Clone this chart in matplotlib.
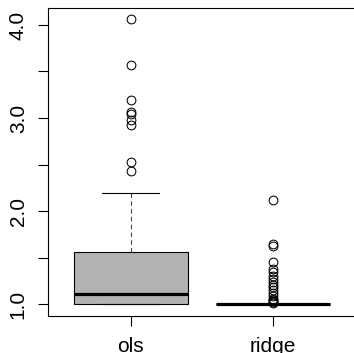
import matplotlib
matplotlib.use("Agg")
import matplotlib.pyplot as plt

plt.rcParams['font.family'] = ['Liberation Sans', 'DejaVu Sans']

categories = ["ols", "ridge"]
medians = [1.11, 1.0]
q1 = [1.0, 1.0]
q3 = [1.56, 1.0]
whisker_low = [1.0, 1.0]
whisker_high = [2.19, 1.0]
outliers_ols = [4.06, 3.57, 3.19, 3.07, 3.04, 2.98, 2.92, 2.53, 2.43]
outliers_ridge = [2.12, 1.645, 1.62, 1.45, 1.38, 1.34, 1.30, 1.27, 1.24, 1.21,
                  1.18, 1.15, 1.12, 1.09, 1.06, 1.04, 1.03, 1.02, 1.01]
y_ticks = [1.0, 1.5, 2.0, 2.5, 3.0, 3.5, 4.0]
y_labels = ["1.0", "", "2.0", "", "3.0", "", "4.0"]

fliers = [outliers_ols, outliers_ridge]
stats = []
for i, c in enumerate(categories):
    stats.append(dict(label=c, med=medians[i], q1=q1[i], q3=q3[i],
                      whislo=whisker_low[i], whishi=whisker_high[i],
                      fliers=fliers[i]))

W, H = 354, 353
fig = plt.figure(figsize=(W / 100, H / 100), dpi=100)
ax = fig.add_axes([48 / W, (H - 315.5) / H, (355.5 - 48) / W, (315.5 - 8) / H])

ax.bxp(stats, positions=[1, 2], widths=0.8, patch_artist=True,
       boxprops=dict(facecolor="#B3B3B3", edgecolor="black", linewidth=0.8),
       medianprops=dict(color="black", linewidth=2.3, solid_capstyle="butt"),
       whiskerprops=dict(color="#444444", linewidth=0.8, linestyle=(0, (4, 3))),
       capprops=dict(color="black", linewidth=0.8),
       capwidths=0.4,
       flierprops=dict(marker="o", markerfacecolor="none", markeredgecolor="black",
                       markersize=6.3, markeredgewidth=0.75, linestyle="none"))

ax.set_xlim(0.42, 2.58)
ax.set_ylim(0.8776, 4.1824)
ax.set_xticks([1, 2])
ax.set_xticklabels(categories, fontsize=15)
ax.set_yticks(y_ticks)
ax.set_yticklabels(y_labels, fontsize=15, rotation=90, va="center")
ax.tick_params(axis="both", direction="out", length=7, width=0.8, color="black")
ax.tick_params(axis="x", pad=8.5)
ax.tick_params(axis="y", pad=7.5)
for s in ax.spines.values():
    s.set_linewidth(0.8)
    s.set_color("black")

fig.savefig("out.png", dpi=100)
